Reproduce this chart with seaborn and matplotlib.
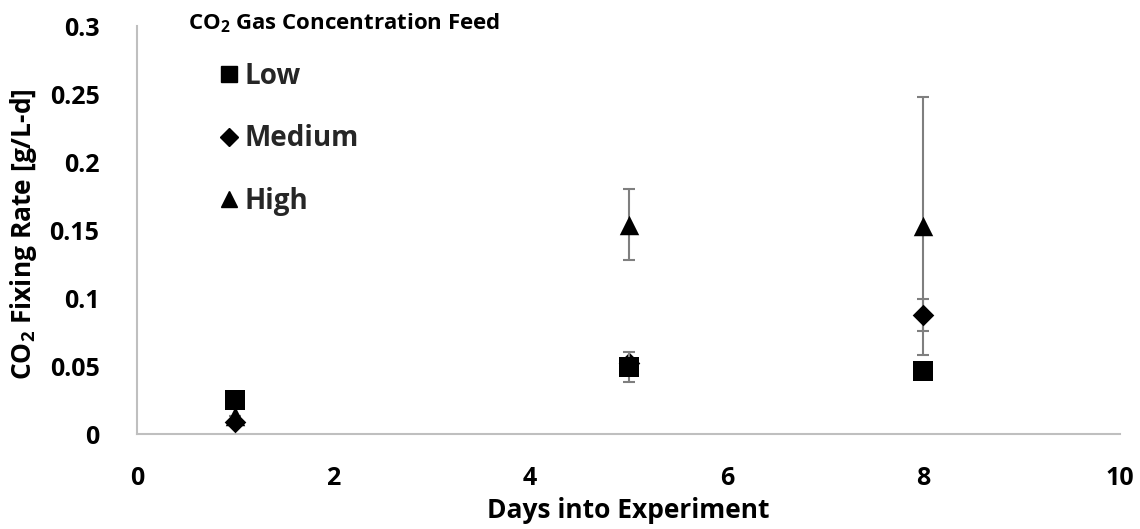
import matplotlib
matplotlib.use("Agg")
import matplotlib.pyplot as plt
import seaborn as sns
import pandas as pd
import numpy as np
from matplotlib.lines import Line2D

days = [1, 5, 8]
series = ["Low", "Medium", "High"]
low_vals = [0.025, 0.049, 0.046]
low_err = [0.0, 0.011, 0.005]
medium_vals = [0.009, 0.052, 0.0875]
medium_err = [0.0, 0.003, 0.012]
high_vals = [0.013, 0.154, 0.153]
high_err = [0.0, 0.026, 0.095]
x_ticks = [0, 2, 4, 6, 8, 10]
y_ticks = [0, 0.05, 0.1, 0.15, 0.2, 0.25, 0.3]
y_tick_labels = ["0", "0.05", "0.1", "0.15", "0.2", "0.25", "0.3"]

sns.set_theme(style="white")
plt.rcParams["font.family"] = ["Open Sans", "DejaVu Sans"]
plt.rcParams["font.weight"] = "bold"
plt.rcParams["mathtext.fontset"] = "custom"
plt.rcParams["mathtext.rm"] = "Open Sans:bold"
plt.rcParams["mathtext.bf"] = "Open Sans:bold"

vals = {"Low": low_vals, "Medium": medium_vals, "High": high_vals}
errs = {"Low": low_err, "Medium": medium_err, "High": high_err}
rows = []
for s in series:
    for d, v, e in zip(days, vals[s], errs[s]):
        rows.append({"Day": d, "Rate": v, "Err": e, "Feed": s})
df = pd.DataFrame(rows)

fig = plt.figure(figsize=(11.4, 5.29), dpi=100)
ax = fig.add_axes([137/1140, 1-434/529, (1120-137)/1140, (434-26)/529])

markers = {"Low": "s", "Medium": "D", "High": "^"}
sizes = {"Low": 14, "Medium": 11, "High": 14}
draw_order = ["High", "Medium", "Low"]
for i, s in enumerate(draw_order):
    sub = df[df["Feed"] == s]
    ax.errorbar(sub["Day"], sub["Rate"], yerr=sub["Err"], fmt="none",
                ecolor="#7f7f7f", elinewidth=1.5, capsize=4.5, capthick=1.5,
                zorder=2 + 2*i)
    sns.scatterplot(data=sub, x="Day", y="Rate", marker=markers[s],
                    s=sizes[s]**2, color="black", edgecolor="black",
                    linewidth=0, ax=ax, zorder=3 + 2*i, legend=False)

ax.set_xlim(0, 10)
ax.set_ylim(0, 0.3)
ax.set_xticks(x_ticks)
ax.set_xticklabels([str(t) for t in x_ticks])
ax.set_yticks(y_ticks)
ax.set_yticklabels(y_tick_labels)
ax.tick_params(axis="both", length=0, labelsize=18, colors="black")
ax.tick_params(axis="x", pad=23)
ax.tick_params(axis="y", pad=27)
for lab in ax.get_xticklabels() + ax.get_yticklabels():
    lab.set_fontweight("bold")
for side in ["top", "right"]:
    ax.spines[side].set_visible(False)
for side in ["left", "bottom"]:
    ax.spines[side].set_color("#bfbfbf")
    ax.spines[side].set_linewidth(1.5)
ax.grid(False)

ax.set_xlabel("Days into Experiment", fontsize=19, fontweight="bold", color="black")
ax.xaxis.set_label_coords(0.5, (434-497)/408)
ax.set_ylabel("CO$_{2}$ Fixing Rate [g/L-d]", fontsize=19, fontweight="bold", color="black")
ax.yaxis.set_label_coords((39-137)/983, 0.49)

fig.text(188/1140, 1-23/529, "CO$_{2}$ Gas Concentration Feed", fontsize=16,
         fontweight="bold", va="center", ha="left", color="black")

handles = [Line2D([], [], linestyle="none", marker=markers[s], color="black",
                  markersize=sizes[s]*0.85) for s in series]
leg = fig.legend(handles, series, loc="upper left",
                 bbox_to_anchor=(207/1140, 1-48/529), frameon=False,
                 prop={"size": 20, "weight": "bold"}, labelspacing=1.2,
                 handlelength=0.6, handletextpad=0.25, borderpad=0)

fig.savefig("out.png", dpi=100)
